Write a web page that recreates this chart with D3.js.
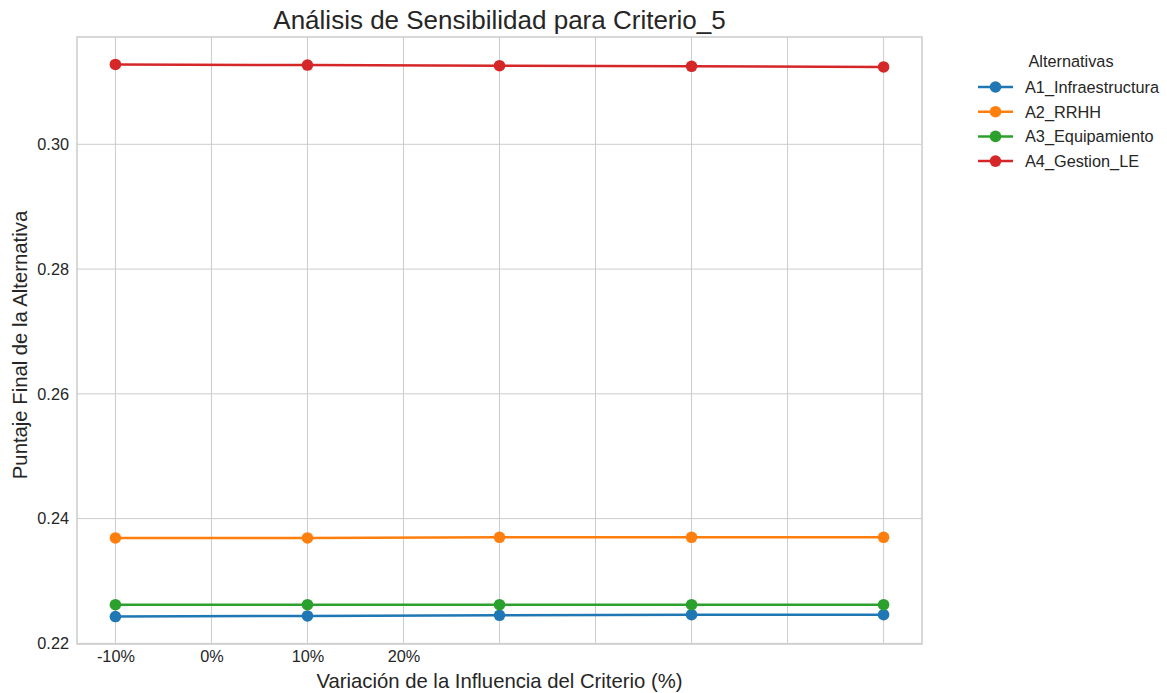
<!DOCTYPE html>
<html>
<head>
<meta charset="utf-8">
<script src="https://cdn.jsdelivr.net/npm/d3@7"></script>
<style>
    body { margin: 0; background: #fff; }
    text { font-family: "Liberation Sans", Arial, sans-serif; fill: #262626; }
</style>
</head>
<body>
<div id="chart"></div>
<script>
// data
var seriesNames = ["A1_Infraestructura", "A2_RRHH", "A3_Equipamiento", "A4_Gestion_LE"];
var seriesColors = ["#1f77b4", "#ff7f0e", "#2ca02c", "#d62728"];
var xPoints = [0, 2, 4, 6, 8];
var a1Values = [0.2243, 0.2244, 0.2245, 0.2246, 0.2246];
var a2Values = [0.2369, 0.2369, 0.2370, 0.2370, 0.2370];
var a3Values = [0.2262, 0.2262, 0.2262, 0.2262, 0.2262];
var a4Values = [0.3128, 0.3127, 0.3126, 0.3125, 0.3124];
var xGridTicks = [0, 1, 2, 3, 4, 5, 6, 7, 8];
var xTickLabels = ["-10%", "0%", "10%", "20%"];
var yTicks = [0.22, 0.24, 0.26, 0.28, 0.30];

var allValues = [a1Values, a2Values, a3Values, a4Values];

var W = 1167, H = 693;
var margin = { top: 37, right: 245, bottom: 49, left: 77 };
var tickFont = 16.3, labelFont = 20.3, titleFont = 26;

var svg = d3.select("#chart").append("svg")
    .attr("width", W)
    .attr("height", H);

var x = d3.scaleLinear().domain([-0.4, 8.4]).range([margin.left, W - margin.right]);
var y = d3.scaleLinear().domain([0.2199, 0.3172]).range([H - margin.bottom, margin.top]);

//grid
svg.append("g").selectAll("line").data(xGridTicks).enter().append("line")
    .attr("x1", d => x(d)).attr("x2", d => x(d))
    .attr("y1", y.range()[0]).attr("y2", y.range()[1])
    .attr("stroke", "#cccccc").attr("stroke-width", 1);
svg.append("g").selectAll("line").data(yTicks).enter().append("line")
    .attr("x1", x.range()[0]).attr("x2", x.range()[1])
    .attr("y1", d => y(d)).attr("y2", d => y(d))
    .attr("stroke", "#cccccc").attr("stroke-width", 1);

//frame
svg.append("rect")
    .attr("x", x.range()[0]).attr("y", y.range()[1])
    .attr("width", x.range()[1] - x.range()[0])
    .attr("height", y.range()[0] - y.range()[1])
    .attr("fill", "none").attr("stroke", "#cccccc").attr("stroke-width", 1.5);

//axes (labels only, seaborn whitegrid has no tick marks)
var xAxis = d3.axisBottom(x)
    .tickValues(xTickLabels.map((d, i) => i))
    .tickFormat((d, i) => xTickLabels[i])
    .tickSize(0).tickPadding(6);
var gx = svg.append("g").attr("transform", "translate(0," + y.range()[0] + ")").call(xAxis);
gx.select(".domain").remove();
gx.selectAll("text").attr("font-size", tickFont).style("fill", "#262626")
    .attr("font-family", "Liberation Sans, Arial, sans-serif");

var yAxis = d3.axisLeft(y).tickValues(yTicks).tickFormat(d3.format(".2f"))
    .tickSize(0).tickPadding(8);
var gy = svg.append("g").attr("transform", "translate(" + x.range()[0] + ",0)").call(yAxis);
gy.select(".domain").remove();
gy.selectAll("text").attr("font-size", tickFont).style("fill", "#262626")
    .attr("font-family", "Liberation Sans, Arial, sans-serif");

//lines and markers
var line = d3.line().x((d, i) => x(xPoints[i])).y(d => y(d));
allValues.forEach(function(vals, k) {
    svg.append("path")
        .attr("d", line(vals))
        .attr("fill", "none")
        .attr("stroke", seriesColors[k])
        .attr("stroke-width", 2.5);
    svg.append("g").selectAll("circle").data(vals).enter().append("circle")
        .attr("cx", (d, i) => x(xPoints[i]))
        .attr("cy", d => y(d))
        .attr("r", 5.8)
        .attr("fill", seriesColors[k]);
});

//title and axis labels
var cx = (x.range()[0] + x.range()[1]) / 2;
svg.append("text").attr("x", cx).attr("y", 29)
    .attr("text-anchor", "middle").attr("font-size", titleFont)
    .text("Análisis de Sensibilidad para Criterio_5");
svg.append("text").attr("x", cx).attr("y", 688)
    .attr("text-anchor", "middle").attr("font-size", labelFont)
    .text("Variación de la Influencia del Criterio (%)");
svg.append("text")
    .attr("transform", "translate(27,345) rotate(-90)")
    .attr("text-anchor", "middle").attr("font-size", labelFont)
    .text("Puntaje Final de la Alternativa");

//legend
var legend = svg.append("g").attr("transform", "translate(978,0)");
legend.append("text").attr("x", 93).attr("y", 67)
    .attr("text-anchor", "middle").attr("font-size", tickFont)
    .text("Alternativas");
seriesNames.forEach(function(name, k) {
    var ly = 87 + k * 24.7;
    legend.append("line").attr("x1", 0).attr("x2", 35).attr("y1", ly).attr("y2", ly)
        .attr("stroke", seriesColors[k]).attr("stroke-width", 2.5);
    legend.append("circle").attr("cx", 17.5).attr("cy", ly).attr("r", 5.8)
        .attr("fill", seriesColors[k]);
    legend.append("text").attr("x", 47).attr("y", ly + 6)
        .attr("font-size", tickFont).text(name);
});
</script>
</body>
</html>
